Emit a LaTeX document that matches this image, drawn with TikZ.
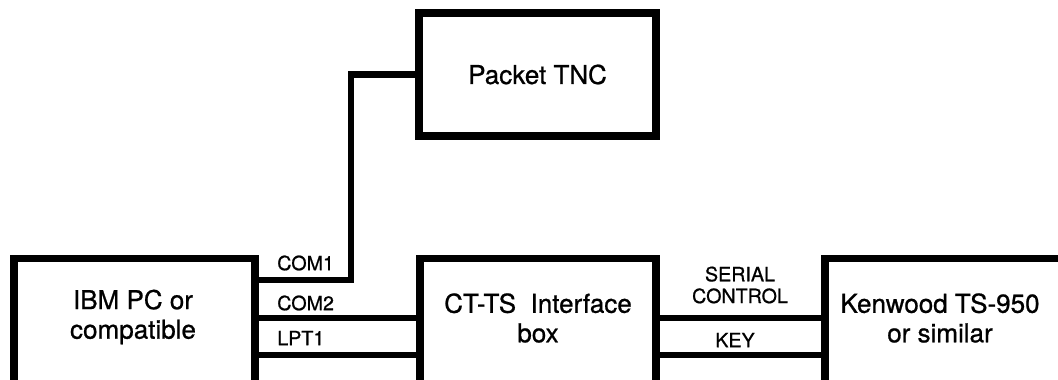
\documentclass[tikz,border=0pt]{standalone}
\usepackage{fontspec}
\setmainfont{TeX Gyre Heros}[FakeBold=0.8]
\usetikzlibrary{positioning}

\tikzset{
  unit/.style={draw, line width=5pt, rectangle, inner sep=0pt},
  wire/.style={line width=4.5pt},
  boxtext/.style={align=center, inner sep=0pt,
    font=\fontsize{18.5}{21}\selectfont},
  portlabel/.style={inner sep=0pt, font=\fontsize{14}{15.5}\selectfont}
}

\begin{document}
\begin{tikzpicture}[x=0.25mm, y=-0.25mm]
                \useasboundingbox (0,0) rectangle (1058,379);

                % ===== 设备方框 =====
                \node[unit, anchor=north, minimum width=60.25mm, minimum height=50mm] (ibm) at (134.5,255) {};
                \node[unit, anchor=north, minimum width=59mm, minimum height=50mm] (ctts) at (538,255) {};
                \node[unit, anchor=north, minimum width=75mm, minimum height=50mm] (radio) at (975,255) {};
                \node[unit, minimum width=59.25mm, minimum height=30.75mm,
                      font=\fontsize{18.5}{21}\selectfont] (tnc) at (537.5,74.5) {Packet TNC};

                % ===== 方框文字 =====
                \node[boxtext] (ibmtext) at (133,317) {IBM PC or\\compatible};
                \node[boxtext] (cttstext) at (538,318) {CT-TS\ \ Interface\\box};
                \node[boxtext] (radiotext) at (940,318) {Kenwood TS-950\\or similar};

                % ===== 连线 =====
                \coordinate (bend) at (351,280);
                \coordinate (com2) at (0,318);
                \coordinate (lpt1) at (0,355);
                \draw[wire] (tnc.west) -| (bend) -- (bend -| ibm.east);
                \draw[wire] (com2 -| ibm.east) -- (com2 -| ctts.west);
                \draw[wire] (lpt1 -| ibm.east) -- (lpt1 -| ctts.west);
                \draw[wire] (com2 -| ctts.east) -- (com2 -| radio.west);
                \draw[wire] (lpt1 -| ctts.east) -- (lpt1 -| radio.west);

                % ===== 端口标注 =====
                \node[portlabel, anchor=west] (com1label) at (277,263) {COM1};
                \node[portlabel, anchor=west] (com2label) at (277,303) {COM2};
                \node[portlabel, anchor=west] (lpt1label) at (277,338) {LPT1};
                \node[portlabel, align=center] (seriallabel) at (740,285) {SERIAL\\CONTROL};
                \node[portlabel] (keylabel) at (735,340) {KEY};

                \end{tikzpicture}
\end{document}
